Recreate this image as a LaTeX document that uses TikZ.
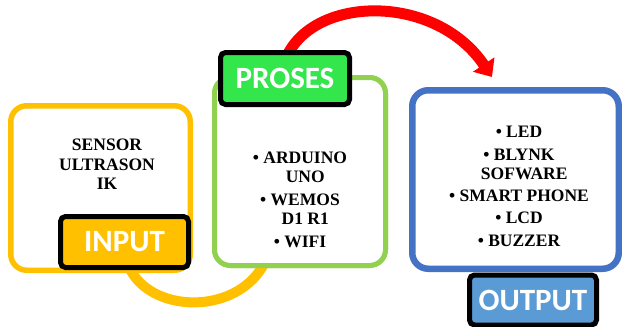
\documentclass[tikz,border=0pt]{standalone}
\usepackage{fontspec}
\setmainfont{Liberation Serif}
\newfontfamily\labfont{Carlito}
\usetikzlibrary{arrows.meta}
\definecolor{inC}{HTML}{FFC000}
\definecolor{prosC}{HTML}{92D050}
\definecolor{outC}{HTML}{4472C4}
\definecolor{prosL}{HTML}{33E64C}
\definecolor{outL}{HTML}{5B9BD5}
\definecolor{redC}{HTML}{FF0000}
\tikzset{
  bigbox/.style={draw, fill=white, rounded corners=16pt, inner sep=0pt},
  labbox/.style={draw=black, line width=5pt, rounded corners=5pt, inner sep=0pt,
    text=white, font=\labfont\bfseries\fontsize{31}{31}\selectfont},
  txt/.style={align=center, inner sep=0pt, font=\bfseries\fontsize{17.5}{19}\selectfont},
  flow/.style={line width=10pt}
}
\begin{document}
\begin{tikzpicture}[x=1pt,y=-1pt]
\useasboundingbox (0,0) rectangle (622,327);
% boxes
\node[bigbox, draw=inC, line width=5.5pt, minimum width=179.5pt, minimum height=164.5pt] (inbox) at (100.5,188) {};
\node[bigbox, draw=prosC, line width=5pt, minimum width=171pt, minimum height=188pt] (prosbox) at (300,171.5) {};
\node[bigbox, draw=outC, line width=6.5pt, minimum width=206.5pt, minimum height=178.5pt] (outbox) at (515.5,179.5) {};
% labels (placed first so arcs can refer to them; redrawn on top later)
\path (124.5,242) coordinate (inlabc) (285,78.5) coordinate (proslabc);
% arcs
\draw[flow, inC] ([xshift=2.5pt,yshift=-20pt]inlabc) .. controls (145,316) and (245,318) .. ([xshift=-32pt,yshift=13pt]prosbox.south);
\draw[flow, redC, line width=11pt, -{Triangle[length=15pt,width=25pt]}] ([yshift=18pt]proslabc) .. controls (310,-5) and (435,-8) .. ([xshift=-23.5pt,yshift=10pt]outbox.north);
% redraw box over orange arc end
\node[bigbox, draw=prosC, line width=5pt, minimum width=171pt, minimum height=188pt] at (300,171.5) {};
% labels
\node[labbox, fill=inC, minimum width=128pt, minimum height=51pt] (inlab) at (inlabc) {INPUT};
\node[labbox, fill=prosL, minimum width=129pt, minimum height=52pt] (proslab) at (proslabc) {PROSES};
\node[labbox, fill=outL, minimum width=127pt, minimum height=50pt] (outlab) at (533,300) {OUTPUT};
% texts
\node[txt, font=\bfseries\fontsize{17.5}{19.5}\selectfont] (intxt) at (107,164.5) {SENSOR\\ULTRASON\\IK};
\node[txt] (prostxt) at (300,200) {• ARDUINO\\\hphantom{• }UNO\\[4pt]• WEMOS\\\hphantom{• }D1 R1\\[4pt]• WIFI};
\node[txt] (outtxt) at (519,186) {• LED\\[4pt]• BLYNK\\\hphantom{• }SOFWARE\\[3pt]• SMART PHONE\\[3pt]• LCD\\[4pt]• BUZZER};
\end{tikzpicture}
\end{document}
